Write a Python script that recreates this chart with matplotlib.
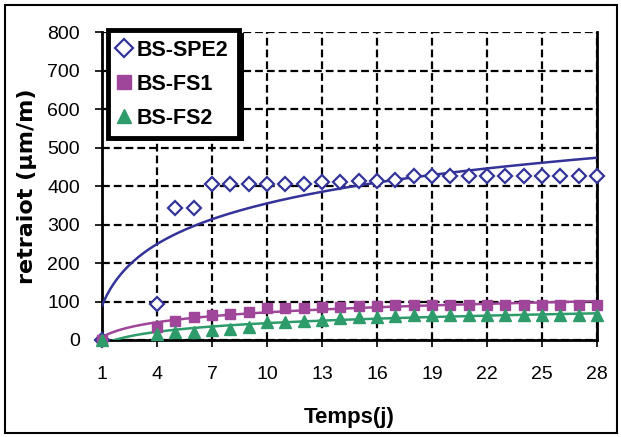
import numpy as np
import matplotlib
matplotlib.use('Agg')
import matplotlib.pyplot as plt
import matplotlib.patheffects as pe
from matplotlib.patches import Rectangle

plt.rcParams['font.family'] = ['Liberation Sans', 'DejaVu Sans']

# Data (days 2 and 3 not measured)
days = [1, 4, 5, 6, 7, 8, 9, 10, 11, 12, 13, 14, 15, 16, 17, 18, 19, 20,
        21, 22, 23, 24, 25, 26, 27, 28]
spe2 = [0, 93, 343, 343, 405, 405, 405, 405, 405, 405, 410, 410, 412, 412,
        415, 425, 425, 425, 425, 425, 425, 425, 425, 425, 425, 425]
fs1 = [0, 35, 50, 60, 66, 68, 72, 82, 82, 82, 86, 86, 88, 88, 90, 91, 91,
       91, 92, 92, 92, 92, 92, 92, 92, 92]
fs2 = [0, 15, 22, 22, 26, 29, 35, 46, 46, 50, 51, 56, 60, 60, 63, 64, 64,
       65, 65, 65, 65, 65, 65, 65, 65, 65]
labels = ['BS-SPE2', 'BS-FS1', 'BS-FS2']
colors = ['#333399', '#A0469A', '#2E9C6A']

fig = plt.figure(figsize=(6.21, 4.37), dpi=100)
ax = fig.add_axes([102/621, 1-340/437, 495/621, 308/437])

x = np.array(days, dtype=float)
xs = np.linspace(1, 28, 300)

series = [spe2, fs1, fs2]
markers = ['D', 's', '^']
msizes = [7, 7.5, 8.5]
for y, lab, c, m, ms in zip(series, labels, colors, markers, msizes):
    # logarithmic trend line
    a, b = np.polyfit(np.log(x), np.array(y, dtype=float), 1)
    ax.plot(xs, a*np.log(xs) + b, color=c, lw=1.8, zorder=3)
    if m == 'D':
        ax.plot(x, y, ls='none', marker=m, ms=ms, mfc='white', mec=c,
                mew=1.6, label=lab, zorder=4, clip_on=False)
    else:
        ax.plot(x, y, ls='none', marker=m, ms=ms, color=c, label=lab,
                zorder=4, clip_on=False)

ax.set_xlim(1, 28)
ax.set_ylim(0, 800)
ax.set_xticks(range(1, 29, 3))
ax.set_yticks(range(0, 801, 100))
ax.tick_params(labelsize=14, direction='out', length=5, width=1.2)
ax.tick_params(axis='x', pad=14)
ax.tick_params(axis='y', pad=11)
ax.grid(True, color='black', ls=(0, (3.5, 1.8)), lw=1.6)
ax.set_axisbelow(True)
ax.spines['top'].set_visible(False)
for s in ['left', 'right', 'bottom']:
    ax.spines[s].set_linewidth(2)

ax.set_xlabel('Temps(j)', fontsize=16, fontweight='bold', labelpad=17)
ax.set_ylabel('retraiot (µm/m)', fontsize=16, fontweight='bold', labelpad=7,
              family='DejaVu Sans')

leg = ax.legend(loc='upper left', bbox_to_anchor=(108/621, 1-30/437),
                bbox_transform=fig.transFigure, borderaxespad=0,
                prop={'size': 15.5, 'weight': 'bold'}, fancybox=False,
                handlelength=0.6, handletextpad=0.3, labelspacing=0.6,
                borderpad=0.45, framealpha=1, markerscale=1.25)
leg.get_frame().set_edgecolor('black')
leg.get_frame().set_linewidth(3.5)
leg.get_frame().set_path_effects([
    pe.SimplePatchShadow(offset=(4, -2), shadow_rgbFace='black', alpha=1),
    pe.Normal()])
leg.set_zorder(10)

fig.patches.append(Rectangle((4.5/621, 4.5/437), 612/621, 428/437,
                             transform=fig.transFigure,
                             fill=False, ec='black', lw=1.5))

fig.savefig('out.png', dpi=100)
